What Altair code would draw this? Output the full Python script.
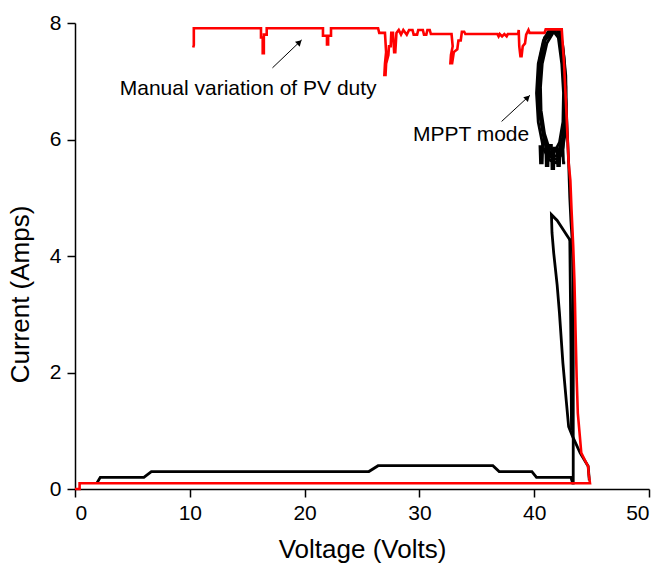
import altair as alt
import pandas as pd

# ---------------- data ----------------
# Red trace: manual variation of PV duty (ordered path)
red_v = [10.3, 10.35, 10.35, 16.2, 16.2, 16.35, 16.35, 16.45, 16.45, 16.7, 16.7,
         21.6, 21.6, 21.95, 21.95, 22.05, 22.05, 22.3, 22.3, 26.4, 26.5,
         27.0, 27.1, 27.0, 26.95, 27.05, 27.1, 27.3, 27.35, 27.5, 27.55, 27.7, 27.8, 27.9, 28.0,
         28.2, 28.4, 28.6, 28.9, 29.1, 29.4, 29.5, 29.8, 29.9, 30.3, 30.4, 30.6, 30.7, 30.9, 31.0,
         32.8, 32.9, 32.75, 32.7, 32.85, 33.0, 33.3, 33.4, 33.6, 33.7, 33.9, 34.0,
         36.8, 36.9, 37.0, 37.2, 37.4, 37.6, 37.7,
         38.6, 38.65, 38.7, 38.8, 38.9, 39.0, 39.2, 39.3, 39.5, 39.6,
         40.9, 41.0, 42.2, 42.4, 42.6, 42.8, 43.0, 43.15, 43.25, 43.4, 43.5, 43.55, 43.6,
         43.7, 43.75, 43.8, 44.0, 44.1, 44.4, 44.7, 44.75, 44.86,
         0.4, 0.4, 0.0]
red_i = [7.58, 7.62, 7.91, 7.91, 7.75, 7.75, 7.48, 7.48, 7.80, 7.80, 7.91,
         7.91, 7.78, 7.78, 7.63, 7.63, 7.78, 7.78, 7.91, 7.91, 7.83,
         7.83, 7.50, 7.30, 7.11, 7.11, 7.30, 7.45, 7.60, 7.60, 7.83, 7.83, 7.50, 7.50, 7.83,
         7.88, 7.80, 7.88, 7.80, 7.88, 7.88, 7.80, 7.80, 7.88, 7.88, 7.80, 7.80, 7.88, 7.88, 7.81,
         7.81, 7.60, 7.45, 7.31, 7.31, 7.50, 7.55, 7.70, 7.70, 7.85, 7.85, 7.81,
         7.81, 7.77, 7.81, 7.77, 7.81, 7.77, 7.81,
         7.81, 7.88, 7.60, 7.43, 7.43, 7.60, 7.65, 7.80, 7.88, 7.83,
         7.83, 7.89, 7.89, 7.89, 7.30, 6.50, 5.60, 5.30, 4.80, 4.16, 3.60, 3.20, 2.73,
         1.90, 1.60, 1.30, 0.85, 0.62, 0.50, 0.39, 0.25, 0.10,
         0.10, 0.00, 0.00]

# Black trace: bottom run and right-hand descent
blk_bottom_v = [1.9, 2.2, 6.0, 6.65, 25.6, 26.4, 36.4, 36.95, 39.8, 40.2, 43.2, 43.35,
                43.4, 43.4, 43.3, 43.2, 43.1, 43.0, 42.8, 42.6, 42.3]
blk_bottom_i = [0.10, 0.20, 0.20, 0.30, 0.30, 0.40, 0.40, 0.30, 0.30, 0.20, 0.20, 0.10,
                0.10, 3.60, 4.30, 4.60, 5.00, 5.60, 6.50, 7.20, 7.89]

# Black side loop below the MPPT region
blk_side_v = [43.2, 43.0, 42.0, 41.5, 41.55, 41.7, 42.0, 42.2, 42.5, 42.8, 43.0, 43.35,
              44.0, 44.7, 44.8]
blk_side_i = [4.25, 4.31, 4.61, 4.71, 4.40, 4.05, 3.50, 3.02, 2.16, 1.50, 1.07, 0.90,
              0.62, 0.39, 0.15]
blk_inner_v = [43.1, 43.2, 43.25]
blk_inner_i = [4.30, 2.50, 1.00]

# MPPT loops (overlapping orbits)
loop1_v = [41.6, 42.1, 42.5, 42.75, 42.8, 42.7, 42.4, 41.9, 41.3, 40.8, 40.35, 40.2, 40.35, 40.8, 41.2, 41.6]
loop1_i = [7.89, 7.89, 7.60, 7.10, 6.60, 6.10, 5.75, 5.60, 5.65, 5.85, 6.30, 6.80, 7.30, 7.70, 7.85, 7.89]
loop2_v = [41.7, 42.1, 42.4, 42.55, 42.5, 42.2, 41.8, 41.3, 40.9, 40.6, 40.55, 40.7, 41.1, 41.7]
loop2_i = [7.85, 7.75, 7.30, 6.80, 6.30, 5.95, 5.80, 5.85, 6.10, 6.50, 6.90, 7.30, 7.65, 7.85]
loop3_v = [41.65, 42.2, 42.45, 42.65, 42.65, 42.45, 42.0, 41.5, 41.0, 40.6, 40.4, 40.5, 40.95, 41.65]
loop3_i = [7.87, 7.80, 7.45, 6.95, 6.40, 6.00, 5.72, 5.72, 5.95, 6.35, 6.85, 7.25, 7.70, 7.87]
loop4_v = [41.75, 42.3, 42.6, 42.75, 42.7, 42.5, 42.05, 41.4, 40.9, 40.5, 40.3, 40.45, 40.9, 41.75]
loop4_i = [7.89, 7.85, 7.40, 6.90, 6.30, 5.85, 5.65, 5.70, 5.95, 6.40, 6.90, 7.35, 7.75, 7.89]
jag_v = [40.5, 40.55, 40.7, 40.75, 41.0, 41.05, 41.2, 41.25, 41.5, 41.55, 41.7, 41.75,
         42.0, 42.05, 42.2, 42.3, 42.5, 42.55, 42.7]
jag_i = [5.90, 5.60, 5.60, 5.95, 5.95, 5.55, 5.55, 5.90, 5.90, 5.50, 5.50, 5.85,
         5.85, 5.55, 5.55, 5.90, 5.90, 5.60, 5.60]

# Annotations
note_text = ["Manual variation of PV duty", "MPPT mode"]
note_v = [3.9, 34.5]
note_i = [6.86, 6.08]
note_align = ["left", "center"]
arrow_v0 = [17.2, 37.16]
arrow_i0 = [7.23, 6.31]
arrow_v1 = [19.75, 39.63]
arrow_i1 = [7.71, 6.76]
head_v = [19.55, 39.43]
head_i = [7.67, 6.72]

x_ticks = [0, 10, 20, 30, 40, 50]
y_ticks = [0, 2, 4, 6, 8]

# ---------------- tables ----------------
def path(vs, is_, name):
    return pd.DataFrame({"v": vs, "i": is_, "seg": name, "k": list(range(len(vs)))})

red_df = path(red_v, red_i, "red")
black_df = pd.concat([
    path(blk_bottom_v, blk_bottom_i, "bottom"),
    path(blk_side_v, blk_side_i, "side"),
    path(blk_inner_v, blk_inner_i, "inner"),
    path(loop1_v, loop1_i, "loop1"),
    path(loop2_v, loop2_i, "loop2"),
    path(loop3_v, loop3_i, "loop3"),
    path(loop4_v, loop4_i, "loop4"),
    path(jag_v, jag_i, "jag"),
], ignore_index=True)

notes_df = pd.DataFrame({"t": note_text, "v": note_v, "i": note_i, "a": note_align})
arrows_df = pd.DataFrame({"v0": arrow_v0, "i0": arrow_i0, "v1": arrow_v1, "i1": arrow_i1,
                          "hv": head_v, "hi": head_i})

FONT = "Liberation Sans"

xs = alt.Scale(domain=[0, 50], nice=False, zero=False)
ys = alt.Scale(domain=[0, 8], nice=False, zero=False)

x_axis = alt.Axis(values=x_ticks, format="d", title="Voltage (Volts)", grid=False,
                  tickSize=8, tickWidth=1.5, domainWidth=1.5, domainColor="black",
                  tickColor="black", labelColor="black", labelFont=FONT, labelFontSize=21,
                  labelPadding=5, titleFont=FONT, titleFontSize=26, titleFontWeight="normal",
                  titleColor="black", titleBaseline="alphabetic", titleY=68)
y_axis = alt.Axis(values=y_ticks, format="d", title="Current (Amps)", grid=False,
                  tickSize=8, tickWidth=1.5, domainWidth=1.5, domainColor="black",
                  tickColor="black", labelColor="black", labelFont=FONT, labelFontSize=21,
                  labelPadding=6, titleFont=FONT, titleFontSize=26, titleFontWeight="normal",
                  titleColor="black", titleAngle=-90, titleBaseline="alphabetic",
                  titleAlign="center", titleX=-47, titleY=271)

black = alt.Chart(black_df).mark_line(color="black", strokeWidth=2.8, strokeJoin="miter").encode(
    x=alt.X("v:Q", scale=xs, axis=x_axis),
    y=alt.Y("i:Q", scale=ys, axis=y_axis),
    detail="seg:N",
    order="k:Q",
)

red = alt.Chart(red_df).mark_line(color="#ff0000", strokeWidth=2.6).encode(
    x=alt.X("v:Q", scale=xs),
    y=alt.Y("i:Q", scale=ys),
    order="k:Q",
)

rules = alt.Chart(arrows_df).mark_rule(color="black", strokeWidth=1).encode(
    x=alt.X("v0:Q", scale=xs), y=alt.Y("i0:Q", scale=ys),
    x2="v1:Q", y2="i1:Q",
)
heads = alt.Chart(arrows_df).mark_point(shape="triangle-up", filled=True, color="black",
                                        size=45, angle=46, opacity=1).encode(
    x=alt.X("hv:Q", scale=xs), y=alt.Y("hi:Q", scale=ys),
)

notes_left = alt.Chart(notes_df[notes_df.a == "left"]).mark_text(
    font=FONT, fontSize=21, align="left", baseline="middle", color="black").encode(
    x=alt.X("v:Q", scale=xs), y=alt.Y("i:Q", scale=ys), text="t:N")
notes_center = alt.Chart(notes_df[notes_df.a == "center"]).mark_text(
    font=FONT, fontSize=21, align="center", baseline="middle", color="black").encode(
    x=alt.X("v:Q", scale=xs), y=alt.Y("i:Q", scale=ys), text="t:N")

chart = alt.layer(black, red, rules, heads, notes_left, notes_center).properties(
    width=574, height=466,
    autosize=alt.AutoSizeParams(type="none"),
    padding={"left": 75, "top": 23, "right": 15, "bottom": 74},
    background="white",
).configure_view(stroke=None)

chart.save("out.html", embed_options={"renderer": "svg", "actions": False})
